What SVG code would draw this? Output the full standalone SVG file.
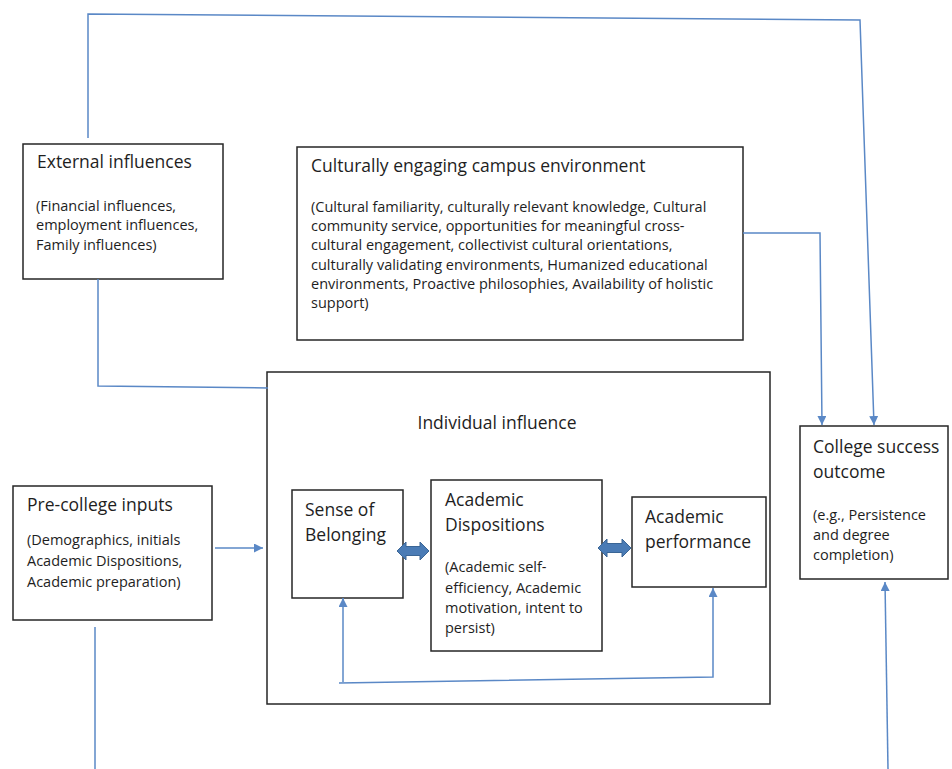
<svg xmlns="http://www.w3.org/2000/svg" width="952" height="769" viewBox="0 0 952 769">
<defs>
<style>
.box{fill:#fff;stroke:#262626;stroke-width:1.5}
.t{font-family:"Open Sans","Liberation Sans",sans-serif;font-size:17.5px;fill:#1e1e1e}
.s{font-family:"Open Sans","Liberation Sans",sans-serif;font-size:14.5px;fill:#1e1e1e}
.ln{fill:none;stroke:#5a88c6;stroke-width:1.5}
.dbl{fill:#4a7bb5;stroke:#3a6595;stroke-width:1}
</style>
<marker id="ah" viewBox="0 0 10 10" refX="10" refY="5" markerWidth="9" markerHeight="9" markerUnits="userSpaceOnUse" orient="auto">
<path d="M0,0 L10,5 L0,10 Z" fill="#5a88c6"/>
</marker>
</defs>
<rect width="952" height="769" fill="#fff"/>

<g id="external">
<rect class="box" x="23" y="144" width="200" height="135"/>
<text class="t" x="37" y="168">External influences</text>
<text class="s" x="36" y="211">(Financial influences,</text>
<text class="s" x="36" y="230">employment influences,</text>
<text class="s" x="36" y="250">Family influences)</text>
</g>

<g id="campus">
<rect class="box" x="297" y="147" width="446" height="193"/>
<text class="t" x="311" y="172">Culturally engaging campus environment</text>
<text class="s" x="311" y="212">(Cultural familiarity, culturally relevant knowledge, Cultural</text>
<text class="s" x="311" y="231">community service, opportunities for meaningful cross-</text>
<text class="s" x="311" y="250">cultural engagement, collectivist cultural orientations,</text>
<text class="s" x="311" y="270">culturally validating environments, Humanized educational</text>
<text class="s" x="311" y="289">environments, Proactive philosophies, Availability of holistic</text>
<text class="s" x="311" y="308">support)</text>
</g>

<g id="individual">
<rect class="box" x="267" y="372" width="503" height="332"/>
<text class="t" x="497" y="429" text-anchor="middle">Individual influence</text>
</g>

<g id="belonging">
<rect class="box" x="292" y="490" width="111" height="108"/>
<text class="t" x="305" y="516">Sense of</text>
<text class="t" x="305" y="541">Belonging</text>
</g>

<g id="dispositions">
<rect class="box" x="431" y="480" width="171" height="171"/>
<text class="t" x="445" y="506">Academic</text>
<text class="t" x="445" y="531">Dispositions</text>
<text class="s" x="445" y="572">(Academic self-</text>
<text class="s" x="445" y="593">efficiency, Academic</text>
<text class="s" x="445" y="613">motivation, intent to</text>
<text class="s" x="445" y="633">persist)</text>
</g>

<g id="performance">
<rect class="box" x="632" y="497" width="134" height="90"/>
<text class="t" x="645" y="523">Academic</text>
<text class="t" x="645" y="548">performance</text>
</g>

<g id="precollege">
<rect class="box" x="13" y="486" width="199" height="134"/>
<text class="t" x="27" y="511">Pre-college inputs</text>
<text class="s" x="27" y="545">(Demographics, initials</text>
<text class="s" x="27" y="566">Academic Dispositions,</text>
<text class="s" x="27" y="587">Academic preparation)</text>
</g>

<g id="outcome">
<rect class="box" x="800" y="426" width="148" height="153"/>
<text class="t" x="813" y="453">College success</text>
<text class="t" x="813" y="478">outcome</text>
<text class="s" x="813" y="520">(e.g., Persistence</text>
<text class="s" x="813" y="540">and degree</text>
<text class="s" x="813" y="560">completion)</text>
</g>

<g id="connectors">
<polyline class="ln" points="88,138 88,14 860,20 874,425" marker-end="url(#ah)"/>
<polyline class="ln" points="98,279 98,386 268,388"/>
<polyline class="ln" points="743,233 820,233 822,425" marker-end="url(#ah)"/>
<line class="ln" x1="215" y1="548" x2="263" y2="548" marker-end="url(#ah)"/>
<line class="ln" x1="95" y1="627" x2="95" y2="769"/>
<line class="ln" x1="888" y1="769" x2="885" y2="582" marker-end="url(#ah)"/>
<line class="ln" x1="343" y1="682" x2="343" y2="598" marker-end="url(#ah)"/>
<polyline class="ln" points="339,683 713,677 713,588" marker-end="url(#ah)"/>
<path class="dbl" d="M397,551 L406,542 L406,546.5 L420,546.5 L420,542 L429,551 L420,560 L420,555.5 L406,555.5 L406,560 Z"/>
<path class="dbl" d="M598,548 L607,539 L607,543.5 L622,543.5 L622,539 L631,548 L622,557 L622,552.5 L607,552.5 L607,557 Z"/>
</g>
</svg>
